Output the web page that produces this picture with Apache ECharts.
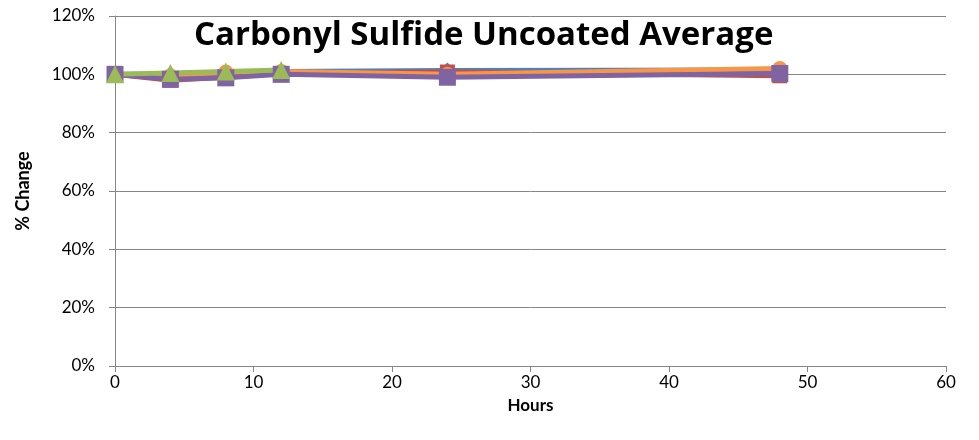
<!DOCTYPE html>
<html><head><meta charset="utf-8">
<script src="https://cdn.jsdelivr.net/npm/echarts@6/dist/echarts.min.js"></script>
<style>html,body{margin:0;padding:0;background:#fff}#c{width:979px;height:440px}</style>
</head><body><div id="c"></div>
<script>
var hours = [0, 4, 8, 12, 24, 48];
var blueVals = [100, 100, 100.5, 101, 101.3, 101.5];
var redVals = [100, 98, 99, 100.3, 100.8, 99.5];
var orangeVals = [100, 99.5, 100.8, 101, 100, 102];
var purpleVals = [100, 98.3, 98.8, 100, 99, 100.3];
var greenVals = [100, 100.5, 101, 101.5];
var titleText = 'Carbonyl Sulfide Uncoated Average';

function pairs(xs, ys){ return ys.map(function(v,i){ return [xs[i], v]; }); }
function mk(name, color, symbol, vals, size){
  return {name:name, type:'line', data:pairs(hours, vals), symbol:symbol, symbolSize:size,
    lineStyle:{color:color, width:5}, itemStyle:{color:color}, animation:false};
}
var chart = echarts.init(document.getElementById('c'));
chart.setOption({
  backgroundColor:'#fff',
  title:{text:titleText, left:189, top:14, textStyle:{fontFamily:'Open Sans', fontWeight:'bold', fontSize:33, color:'#000'}},
  grid:{left:115, right:33, top:16, bottom:74},
  xAxis:{type:'value', min:0, max:60, interval:10, name:'Hours', nameLocation:'middle', nameGap:31, nameMoveOverlap:false,
    nameTextStyle:{fontFamily:'Lato', fontWeight:'bold', fontSize:17, color:'#000'},
    axisLine:{lineStyle:{color:'#868686'}}, axisTick:{show:true, length:6, lineStyle:{color:'#868686'}},
    axisLabel:{fontFamily:'Lato', fontSize:17, color:'#000', margin:8}, splitLine:{show:false}},
  yAxis:{type:'value', min:0, max:120, interval:20, name:'% Change', nameLocation:'middle', nameGap:83, nameRotate:90,
    nameTextStyle:{fontFamily:'Lato', fontWeight:'bold', fontSize:18, color:'#000'},
    axisLine:{show:true, lineStyle:{color:'#868686'}}, axisTick:{show:true, length:6, lineStyle:{color:'#868686'}},
    axisLabel:{fontFamily:'Lato', fontSize:17, color:'#000', margin:20, formatter:'{value}%'},
    splitLine:{lineStyle:{color:'#868686'}}},
  series:[
    mk('Blue', '#4F81BD', 'diamond', blueVals, 16),
    mk('Red', '#C0504D', 'rect', redVals, 15),
    mk('Orange', '#F79646', 'circle', orangeVals, 15),
    mk('Purple', '#8064A2', 'rect', purpleVals, 17),
    {name:'Green', type:'line', data:pairs(hours.slice(0,4), greenVals), symbol:'triangle', symbolSize:18,
      lineStyle:{color:'#9BBB59', width:5}, itemStyle:{color:'#9BBB59'}, animation:false}
  ]
});
</script></body></html>
